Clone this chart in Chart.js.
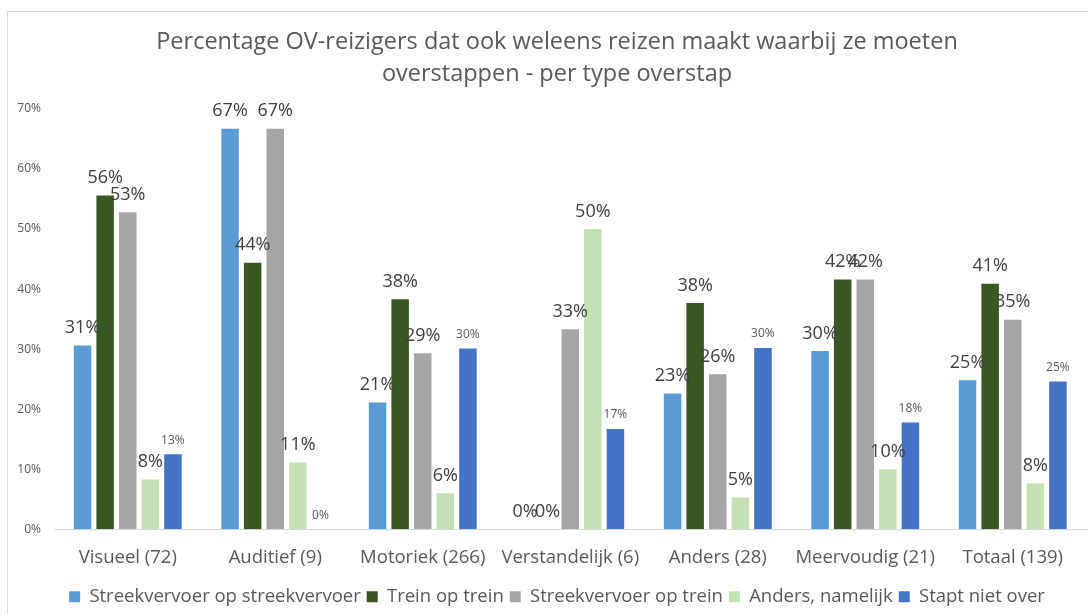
<!DOCTYPE html>
<html>
<head>
<meta charset="utf-8">
<script src="https://cdn.jsdelivr.net/npm/chart.js@4/dist/chart.umd.min.js"></script>
<style>
  html, body { margin: 0; padding: 0; background: #ffffff; overflow: hidden; width: 1088px; height: 614px; }
  #frame { position: absolute; left: 7px; top: 11px; border-left: 1px solid #d9d9d9; border-top: 1px solid #d9d9d9; width: 1098px; height: 604px; }
  canvas { display: block; }
</style>
</head>
<body>
<div id="frame"><canvas id="c" width="1098" height="604"></canvas></div>
<script>
const categories = ['Visueel (72)', 'Auditief (9)', 'Motoriek (266)', 'Verstandelijk (6)', 'Anders (28)', 'Meervoudig (21)', 'Totaal (139)'];
const seriesNames = ['Streekvervoer op streekvervoer', 'Trein op trein', 'Streekvervoer op trein', 'Anders, namelijk', 'Stapt niet over'];
const streekOpStreek = [30.6, 66.7, 21.1, 0, 22.6, 29.7, 24.8];
const treinOpTrein = [55.6, 44.4, 38.3, 0, 37.7, 41.6, 40.9];
const streekOpTrein = [52.8, 66.7, 29.3, 33.3, 25.8, 41.6, 34.9];
const andersNamelijk = [8.3, 11.1, 6.0, 50.0, 5.3, 10.0, 7.6];
const staptNietOver = [12.5, 0, 30.1, 16.7, 30.2, 17.8, 24.6];
const yTicks = [0, 10, 20, 30, 40, 50, 60, 70];
const titleLines = ['Percentage OV-reizigers dat ook weleens reizen maakt waarbij ze moeten', 'overstappen - per type overstap'];

const colors = ['#5B9BD5', '#385723', '#A5A5A5', '#C5E0B4', '#4472C4'];
const seriesValues = [streekOpStreek, treinOpTrein, streekOpTrein, andersNamelijk, staptNietOver];
const FONT = "'Open Sans', 'Noto Sans', sans-serif";

const datasets = seriesValues.map((vals, i) => ({
  label: seriesNames[i],
  data: vals,
  backgroundColor: colors[i],
  borderWidth: 0,
  categoryPercentage: 0.766,
  barPercentage: 0.774
}));

const labelPlugin = {
  id: 'valueLabels',
  afterDatasetsDraw(chart) {
    const ctx = chart.ctx;
    ctx.save();
    ctx.textAlign = 'center';
    ctx.textBaseline = 'middle';
    chart.data.datasets.forEach((ds, di) => {
      const meta = chart.getDatasetMeta(di);
      const small = di === 4;
      ctx.font = (small ? '12px ' : '18px ') + FONT;
      ctx.fillStyle = small ? '#595959' : '#404040';
      meta.data.forEach((el, idx) => {
        const v = ds.data[idx];
        const txt = Math.round(v) + '%';
        ctx.fillText(txt, el.x, el.y - (small ? 14 : 17.5));
      });
    });
    ctx.restore();
  }
};

new Chart(document.getElementById('c'), {
  type: 'bar',
  data: { labels: categories, datasets },
  plugins: [labelPlugin],
  options: {
    responsive: false,
    animation: false,
    devicePixelRatio: 1,
    layout: { padding: 0 },
    plugins: {
      tooltip: { enabled: false },
      title: {
        display: true,
        text: titleLines,
        color: '#595959',
        font: { family: FONT, size: 23.5, weight: 'normal', lineHeight: 32 / 23.5 },
        padding: { top: 14, bottom: 19 }
      },
      legend: {
        display: true,
        position: 'bottom',
        labels: {
          color: '#595959',
          font: { family: FONT, size: 18.5 },
          boxWidth: 11,
          boxHeight: 11,
          padding: 6
        }
      }
    },
    scales: {
      x: {
        grid: { display: false, drawTicks: false },
        border: { display: true, color: '#d9d9d9', width: 1 },
        ticks: { color: '#595959', font: { family: FONT, size: 18.5 }, padding: 17.1, maxRotation: 0, autoSkip: false },
        afterFit(s) { s.height = 52.25; }
      },
      y: {
        min: 0,
        max: 70,
        grid: { display: false, drawTicks: false },
        border: { display: false },
        afterBuildTicks(s) { s.ticks = yTicks.map(v => ({ value: v })); },
        ticks: { color: '#595959', font: { family: FONT, size: 12 }, padding: 13, callback: v => v + '%' },
        afterFit(s) { s.width = 46; }
      },
      yRight: {
        position: 'right',
        display: true,
        grid: { display: false, drawTicks: false },
        border: { display: false },
        ticks: { display: false },
        afterFit(s) { s.width = 19.5; }
      }
    }
  }
});
</script>
</body>
</html>
